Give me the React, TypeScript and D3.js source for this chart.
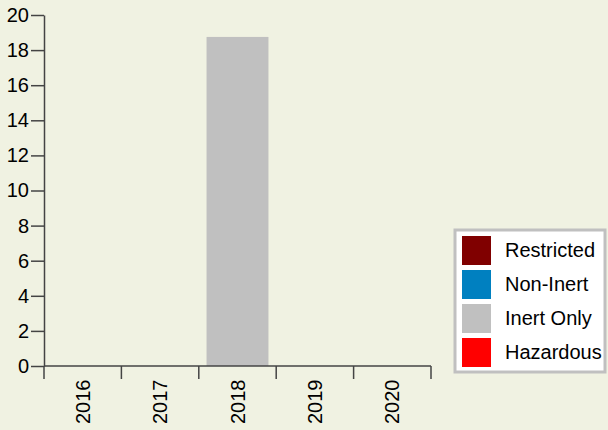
import React, { useEffect, useRef } from 'react';
import * as d3 from 'd3';

const years = ['2016', '2017', '2018', '2019', '2020'];
const seriesNames = ['Restricted', 'Non-Inert', 'Inert Only', 'Hazardous'];
const seriesColors = ['#800000', '#0080c0', '#c0c0c0', '#ff0000'];
const restricted = [0, 0, 0, 0, 0];
const nonInert = [0, 0, 0, 0, 0];
const inertOnly = [0, 0, 18.75, 0, 0];
const hazardous = [0, 0, 0, 0, 0];
const yTicks = [0, 2, 4, 6, 8, 10, 12, 14, 16, 18, 20];

const App = () => {
  const ref = useRef<SVGSVGElement>(null);

  useEffect(() => {
    const svg = d3.select(ref.current);
    svg.selectAll('*').remove();

    const width = 608;
    const height = 430;
    const left = 44;
    const right = 431;
    const top = 15;
    const bottom = 366;
    const font = 'Arial, "Liberation Sans", sans-serif';

    svg.append('rect').attr('width', width).attr('height', height).attr('fill', '#f0f2e2');

    const x = d3.scaleBand().domain(years).range([left, right]).padding(0);
    const y = d3.scaleLinear().domain([0, 20]).range([bottom, top]);

    // stack the series per year
    const rows = years.map((yr, i) => ({
      year: yr,
      Restricted: restricted[i],
      'Non-Inert': nonInert[i],
      'Inert Only': inertOnly[i],
      Hazardous: hazardous[i],
    }));
    const stacked = d3.stack<any>().keys(seriesNames)(rows);
    const color = d3.scaleOrdinal<string>().domain(seriesNames).range(seriesColors);

    const bw = x.bandwidth();
    svg
      .append('g')
      .selectAll('g')
      .data(stacked)
      .join('g')
      .attr('fill', (d) => color(d.key))
      .selectAll('rect')
      .data((d) => d)
      .join('rect')
      .attr('x', (d) => (x(d.data.year) as number) + bw * 0.1)
      .attr('width', bw * 0.8)
      .attr('y', (d) => y(d[1]))
      .attr('height', (d) => y(d[0]) - y(d[1]));

    // y axis
    const yAxis = svg
      .append('g')
      .attr('transform', `translate(${left},0)`)
      .call(d3.axisLeft(y).tickValues(yTicks).tickSize(13).tickSizeOuter(0).tickPadding(2));
    yAxis.select('.domain').attr('stroke', '#444').attr('stroke-width', 1.5);
    yAxis.selectAll('.tick line').attr('stroke', '#444').attr('stroke-width', 1.5);
    yAxis
      .selectAll('.tick text')
      .attr('fill', '#000')
      .style('font-family', font)
      .style('font-size', '20px');

    // x axis, ticks at band edges
    const xg = svg.append('g').attr('transform', `translate(0,${bottom})`);
    xg.append('line')
      .attr('x1', left)
      .attr('x2', right)
      .attr('stroke', '#444')
      .attr('stroke-width', 1.5);
    const edges = years.map((yr) => x(yr) as number).concat([right]);
    xg.selectAll('line.edge')
      .data(edges)
      .join('line')
      .attr('class', 'edge')
      .attr('x1', (d) => d)
      .attr('x2', (d) => d)
      .attr('y1', 0)
      .attr('y2', 13)
      .attr('stroke', '#444')
      .attr('stroke-width', 1.5);
    xg.selectAll('text')
      .data(years)
      .join('text')
      .attr('transform', (d) => `translate(${(x(d) as number) + bw / 2 + 7},${58}) rotate(-90)`)
      .attr('text-anchor', 'start')
      .style('font-family', font)
      .style('font-size', '20px')
      .text((d) => d);

    // legend
    const lg = svg.append('g').attr('transform', 'translate(455,230)');
    lg.append('rect')
      .attr('width', 150)
      .attr('height', 142)
      .attr('fill', '#fff')
      .attr('stroke', '#c0c0c0')
      .attr('stroke-width', 3);
    const item = lg
      .selectAll('g.item')
      .data(seriesNames)
      .join('g')
      .attr('class', 'item')
      .attr('transform', (d, i) => `translate(7,${6 + i * 34})`);
    item.append('rect').attr('width', 29).attr('height', 29).attr('fill', (d) => color(d));
    item
      .append('text')
      .attr('x', 43)
      .attr('y', 21)
      .style('font-family', font)
      .style('font-size', '20px')
      .text((d) => d);
  }, []);

  return (
    <svg
      ref={ref}
      width={608}
      height={430}
      style={{ position: 'absolute', left: 0, top: 0, display: 'block' }}
    />
  );
};

export default App;
